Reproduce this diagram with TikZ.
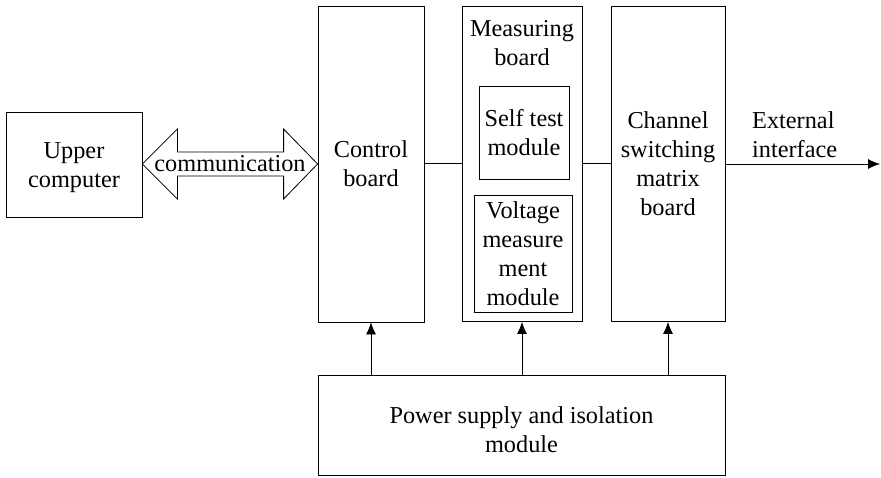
\documentclass[tikz,border=0pt]{standalone}
\usepackage{fontspec}
\setmainfont{Liberation Serif}
\usetikzlibrary{arrows.meta,calc}
\begin{document}
\begin{tikzpicture}[x=1pt,y=-1pt,
  every node/.style={font=\fontsize{24.3}{29}\selectfont},
  box/.style={draw,line width=0.8pt,rectangle,inner sep=0pt,align=center},
  conn/.style={line width=0.8pt},
  arr/.style={line width=0.8pt,-{Latex[length=12pt,width=10pt]}}]
\useasboundingbox (0,0) rectangle (881,477);
\node[box,minimum width=136,minimum height=105] (upper) at (74,164.5) {};
\node[inner sep=0pt,align=center] (uppertext) at (74,168) {Upper\\computer};
\node[box,minimum width=106,minimum height=316] (control) at (371,164) {Control\\board};
\node[box,minimum width=120,minimum height=315] (meas) at (522,164) {};
\node[inner sep=0pt,anchor=north,align=center] (meastitle) at (522,20) {Measuring\\board};
\node[box,minimum width=90,minimum height=93] (self) at (524,132.5) {Self test\\module};
\node[box,minimum width=98,minimum height=117] (volt) at (523,253.5) {Voltage\\measure\\ment\\module};
\node[box,minimum width=114,minimum height=315] (chan) at (668,164) {Channel\\switching\\matrix\\board};
\node[box,minimum width=407,minimum height=100] (power) at (521.5,425) {};
\node[inner sep=0pt,align=center] (powertext) at (521.5,430) {Power supply and isolation\\module};
\coordinate (ext) at (880,164);
\node[inner sep=0pt,anchor=south west,align=left] (exttext) at (752,158) {External\\interface};
% double arrow
\coordinate (lt) at (upper.east |- 0,164);
\coordinate (rt) at (control.west |- 0,164);
\draw[line width=0.8pt] (lt) -- ($(lt)+(35,-35)$) -- ($(lt)+(35,-12)$) -- ($(rt)+(-34,-12)$) -- ($(rt)+(-34,-35)$) -- (rt)
  -- ($(rt)+(-34,35)$) -- ($(rt)+(-34,12)$) -- ($(lt)+(35,12)$) -- ($(lt)+(35,35)$) -- cycle;
\node[inner sep=0pt] (comm) at ($(lt)!0.5!(rt)+(0,0)$) {communication};
% connectors
\draw[conn] (control.east |- 0,163) -- (meas.west |- 0,163);
\draw[conn] (meas.east |- 0,163) -- (chan.west |- 0,163);
\draw[arr] (chan.east |- ext) -- (ext);
\draw[arr] (power.north -| control) -- (control.south);
\draw[arr] (power.north -| meas) -- (meas.south);
\draw[arr] (power.north -| chan) -- (chan.south);
\end{tikzpicture}
\end{document}
